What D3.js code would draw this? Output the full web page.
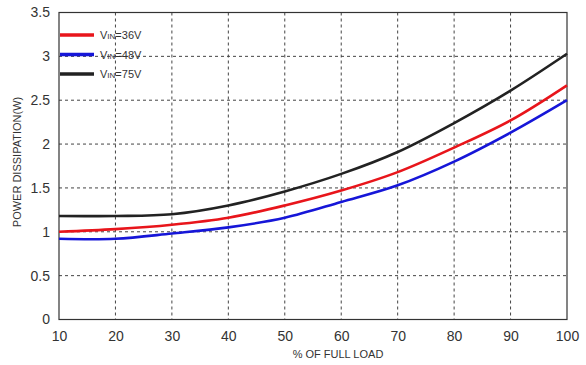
<!DOCTYPE html>
<html><head><meta charset="utf-8">
<script src="https://cdn.jsdelivr.net/npm/d3@7"></script>
<style>body{margin:0;background:#fff}svg{display:block}text{font-family:Arial,"Liberation Sans",sans-serif}</style>
</head><body><svg id="c" width="586" height="365"></svg>
<script>
const loads = [10,20,30,40,50,60,70,80,90,100];
const vin36 = [1.00,1.03,1.08,1.16,1.30,1.47,1.68,1.96,2.27,2.67];
const vin48 = [0.92,0.92,0.98,1.05,1.16,1.34,1.53,1.80,2.13,2.50];
const vin75 = [1.18,1.18,1.20,1.30,1.46,1.66,1.91,2.24,2.61,3.03];
const yTicks = [0,0.5,1,1.5,2,2.5,3,3.5];
const xTicks = [10,20,30,40,50,60,70,80,90,100];
const seriesNames = ["36V","48V","75V"];
const seriesColors = ["#e8151b","#1616d8","#222222"];
const seriesData = [vin36, vin48, vin75];

const svg = d3.select("#c");
const L=59, R=567, T=12.5, B=319.5;
const x = d3.scaleLinear().domain([10,100]).range([L,R]);
const y = d3.scaleLinear().domain([0,3.5]).range([B,T]);

const grid = svg.append("g").attr("stroke","#444").attr("stroke-width",1).attr("stroke-dasharray","3,3");
xTicks.slice(1,-1).forEach(t=>grid.append("line").attr("x1",x(t)).attr("x2",x(t)).attr("y1",T).attr("y2",B));
yTicks.slice(1,-1).forEach(t=>grid.append("line").attr("x1",L).attr("x2",R).attr("y1",y(t)).attr("y2",y(t)));

svg.append("rect").attr("x",L).attr("y",T).attr("width",R-L).attr("height",B-T)
  .attr("fill","none").attr("stroke","#333").attr("stroke-width",1.2);

const xa = svg.append("g").attr("transform",`translate(0,${B})`)
  .call(d3.axisBottom(x).tickValues(xTicks).tickSize(0).tickPadding(12).tickFormat(d3.format("d")));
xa.select(".domain").remove();
xa.selectAll("text").attr("font-size",14).attr("fill","#333").attr("font-family","Arial,'Liberation Sans',sans-serif");

const ya = svg.append("g").attr("transform",`translate(${L},0)`)
  .call(d3.axisLeft(y).tickValues(yTicks).tickSize(0).tickPadding(9).tickFormat(d=>String(d)));
ya.select(".domain").remove();
ya.selectAll("text").attr("font-size",14).attr("fill","#333").attr("font-family","Arial,'Liberation Sans',sans-serif");

const line = d3.line().x((d,i)=>x(loads[i])).y(d=>y(d)).curve(d3.curveCatmullRom.alpha(0.5));
seriesData.forEach((s,k)=>{
  svg.append("path").datum(s).attr("d",line).attr("fill","none")
    .attr("stroke",seriesColors[k]).attr("stroke-width",2.6);
});

const lg = svg.append("g");
seriesNames.forEach((n,k)=>{
  const yy = 35 + k*19.5;
  lg.append("line").attr("x1",60).attr("x2",94).attr("y1",yy).attr("y2",yy)
    .attr("stroke",seriesColors[k]).attr("stroke-width",3.5);
  const t = lg.append("text").attr("x",100).attr("y",yy+4).attr("font-size",11).attr("fill","#333");
  t.append("tspan").text("V");
  t.append("tspan").attr("font-size",8).text("IN");
  t.append("tspan").text("="+n);
});

svg.append("text").attr("x",(L+R)/2+25).attr("y",358).attr("text-anchor","middle")
  .attr("font-size",11).attr("fill","#333").text("% OF FULL LOAD");
svg.append("text").attr("transform","translate(21,162) rotate(-90)").attr("text-anchor","middle")
  .attr("font-size",11).attr("fill","#333").text("POWER DISSIPATION(W)");
</script></body></html>
